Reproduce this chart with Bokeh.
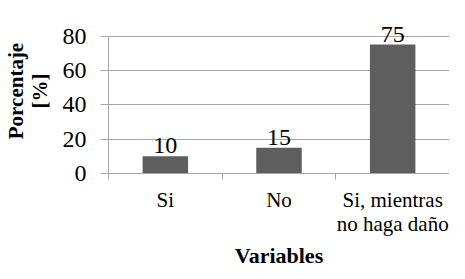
from bokeh.plotting import figure
from bokeh.models import ColumnDataSource, Range1d, FixedTicker
from bokeh.core.properties import value
from bokeh.embed import file_html
from bokeh.resources import INLINE

categories = ["Si", "No", "Si, mientras\nno haga daño"]
percentages = [10, 15, 75]
y_ticks = [0, 20, 40, 60, 80]
x_title = "Variables"
y_title = "Porcentaje\n[%]"

positions = [i + 0.5 for i in range(len(categories))]
src = ColumnDataSource(dict(x=positions, top=percentages,
                            label=[str(v) for v in percentages]))

FONT = "Liberation Serif, serif"
GRAY = "#A6A6A6"

p = figure(width=449, height=270, output_backend="svg", toolbar_location=None,
           x_range=Range1d(0, len(categories)), y_range=Range1d(0, 96),
           min_border_left=106, min_border_right=0, min_border_top=8,
           min_border_bottom=60)
p.outline_line_color = None
p.background_fill_color = "white"
p.border_fill_color = "white"

p.vbar(x="x", top="top", width=0.4, bottom=0, source=src,
       fill_color="#5E5E5E", line_color=None)
p.text(x="x", y="top", text="label", source=src, y_offset=-3,
       text_align="center", text_baseline="bottom",
       text_font=value(FONT), text_font_size="24px", text_color="black")

# y axis
p.yaxis.ticker = FixedTicker(ticks=y_ticks)
p.yaxis.bounds = (0, 80)
p.yaxis.axis_line_color = GRAY
p.yaxis.major_tick_line_color = GRAY
p.yaxis.major_tick_out = 8
p.yaxis.major_tick_in = 0
p.yaxis.minor_tick_line_color = None
p.yaxis.major_label_standoff = 14
p.yaxis.major_label_text_font = FONT
p.yaxis.major_label_text_font_size = "24px"
p.yaxis.major_label_text_color = "black"
p.yaxis.axis_label = y_title
p.yaxis.axis_label_text_font = FONT
p.yaxis.axis_label_text_font_style = "bold"
p.yaxis.axis_label_text_font_size = "21px"
p.yaxis.axis_label_text_line_height = 1.0
p.yaxis.axis_label_text_color = "black"
p.yaxis.axis_label_standoff = 8

p.ygrid.ticker = FixedTicker(ticks=y_ticks)
p.ygrid.grid_line_color = GRAY
p.xgrid.grid_line_color = None

# x axis
p.xaxis.ticker = FixedTicker(ticks=positions,
                             minor_ticks=list(range(len(categories) + 1)))
p.xaxis.major_label_overrides = {pos: c for pos, c in zip(positions, categories)}
p.xaxis.axis_line_color = GRAY
p.xaxis.major_tick_line_color = None
p.xaxis.major_tick_out = 0
p.xaxis.major_tick_in = 0
p.xaxis.minor_tick_line_color = GRAY
p.xaxis.minor_tick_out = 6
p.xaxis.minor_tick_in = 0
p.xaxis.major_label_standoff = 8
p.xaxis.major_label_text_font = FONT
p.xaxis.major_label_text_font_size = "21px"
p.xaxis.major_label_text_line_height = 1.0
p.xaxis.major_label_text_color = "black"
p.xaxis.axis_label = x_title
p.xaxis.axis_label_text_font = FONT
p.xaxis.axis_label_text_font_style = "bold"
p.xaxis.axis_label_text_font_size = "22px"
p.xaxis.axis_label_text_line_height = 1.0
p.xaxis.axis_label_text_color = "black"
p.xaxis.axis_label_standoff = 4

open("out.html", "w").write(file_html(p, INLINE))
